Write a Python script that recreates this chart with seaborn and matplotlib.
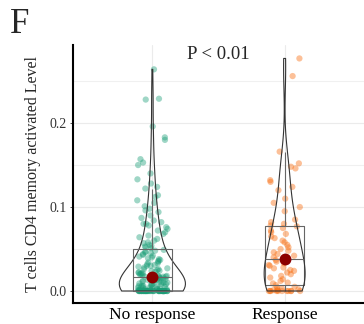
import numpy as np
import pandas as pd
import matplotlib
matplotlib.use("Agg")
import matplotlib.pyplot as plt
import seaborn as sns

# groups shown on the x axis
groups = ["No response", "Response"]

# T cells CD4 memory activated level
no_response = [
    0.264, 0.229, 0.228, 0.196, 0.183, 0.180, 0.157, 0.153, 0.150, 0.140,
    0.133, 0.128, 0.124, 0.122, 0.114, 0.112, 0.108, 0.105, 0.101, 0.098,
    0.096, 0.094, 0.090, 0.087, 0.084, 0.082, 0.080, 0.080, 0.078, 0.076,
    0.074, 0.072, 0.070, 0.068, 0.066, 0.064, 0.062, 0.060, 0.058, 0.057,
    0.055, 0.054, 0.053, 0.052, 0.051,
    0.049, 0.048, 0.047, 0.046, 0.045, 0.044, 0.043, 0.042, 0.041, 0.040,
    0.039, 0.038, 0.037, 0.036, 0.035, 0.034, 0.033, 0.032, 0.031, 0.030,
    0.030, 0.029, 0.028, 0.027, 0.026, 0.026, 0.025, 0.024, 0.024, 0.023,
    0.022, 0.022, 0.021, 0.021, 0.020, 0.020, 0.019, 0.019, 0.018, 0.018,
    0.018, 0.017, 0.017, 0.017, 0.017,
    0.016, 0.016, 0.015, 0.015, 0.014, 0.014, 0.013, 0.013, 0.012, 0.012,
    0.011, 0.011, 0.010, 0.010, 0.010, 0.009, 0.009, 0.008, 0.008, 0.008,
    0.007, 0.007, 0.006, 0.006, 0.006, 0.005, 0.005, 0.005, 0.004, 0.004,
    0.004, 0.003, 0.003, 0.003, 0.002, 0.002, 0.002, 0.001, 0.001, 0.001,
    0.0, 0.0, 0.0, 0.0, 0.0, 0.0, 0.0, 0.0, 0.0, 0.0,
    0.0, 0.0, 0.0, 0.0, 0.0, 0.0, 0.0, 0.0, 0.0, 0.0,
    0.0, 0.0, 0.0, 0.0, 0.0, 0.0, 0.0, 0.0, 0.0, 0.0,
    0.0, 0.0, 0.0, 0.0, 0.0, 0.0, 0.0, 0.0, 0.0, 0.0,
    0.0, 0.0, 0.0, 0.0, 0.0, 0.0, 0.0, 0.0, 0.0, 0.0,
]
response = [
    0.277, 0.256, 0.166, 0.152, 0.148, 0.146, 0.132, 0.130, 0.124, 0.120,
    0.110, 0.105, 0.100, 0.095, 0.085, 0.082, 0.080,
    0.078, 0.077, 0.075, 0.072, 0.070, 0.068, 0.065, 0.063, 0.060, 0.058,
    0.055, 0.052, 0.050, 0.048, 0.046, 0.044, 0.042, 0.040,
    0.037, 0.035, 0.033, 0.031, 0.030, 0.028, 0.027, 0.025, 0.024, 0.022,
    0.020, 0.018, 0.016, 0.014, 0.012, 0.010, 0.009, 0.007,
    0.005, 0.004, 0.003, 0.002, 0.001, 0.001, 0.0, 0.0, 0.0, 0.0,
    0.0, 0.0, 0.0, 0.0, 0.0, 0.0, 0.0,
]
point_colors = ["#1B9E77", "#F86A0A"]
y_ticks = [0.0, 0.1, 0.2]
y_tick_labels = ["0.0", "0.1", "0.2"]
y_minor = [0.05, 0.15, 0.25]

df = pd.DataFrame({
    "group": [groups[0]] * len(no_response) + [groups[1]] * len(response),
    "level": no_response + response,
})

sns.set_theme(style="white")
plt.rcParams["font.family"] = ["Liberation Serif", "DejaVu Serif"]

fig = plt.figure(figsize=(3.64, 3.24), dpi=100)
ax = fig.add_axes([73 / 364, 21 / 324, 291 / 364, 258 / 324])

np.random.seed(3)
sns.stripplot(data=df, x="group", y="level", hue="group", order=groups,
              palette=point_colors, jitter=0.12, size=4.5, alpha=0.42,
              linewidth=0, legend=False, ax=ax, zorder=1)
sns.violinplot(data=df, x="group", y="level", order=groups, fill=False,
               cut=0, inner=None, width=0.5, color="#333333", linewidth=0.8,
               bw_method="silverman", ax=ax)
sns.boxplot(data=df, x="group", y="level", order=groups, fill=False,
            width=0.3, showfliers=False, showcaps=False, color="#666666",
            linewidth=0.8, ax=ax)
sns.pointplot(data=df, x="group", y="level", order=groups, estimator="median",
              errorbar=None, linestyle="none", color="#8B0000", markersize=6.5,
              ax=ax)
for c in ax.collections[-1:]:
    c.set_zorder(5)
for ln in ax.lines[-2:]:
    ln.set_zorder(5)

ax.set_xlim(-0.6, 1.6)
ax.set_ylim(-0.0143, 0.293)
ax.set_yticks(y_ticks)
ax.set_yticklabels(y_tick_labels)
ax.set_yticks(y_minor, minor=True)
ax.set_axisbelow(True)
ax.grid(True, which="major", color="#EBEBEB", linewidth=0.8)
ax.grid(True, which="minor", axis="y", color="#F0F0F0", linewidth=0.8)
ax.tick_params(axis="y", which="major", length=2.5, width=0.6, color="#333333",
               pad=2, labelsize=10, labelcolor="#333333", left=True)
ax.tick_params(axis="y", which="minor", length=0)
ax.tick_params(axis="x", length=0, pad=3, labelsize=12.5, labelcolor="black")
for side in ["top", "right"]:
    ax.spines[side].set_visible(False)
for side in ["left", "bottom"]:
    ax.spines[side].set_color("black")
    ax.spines[side].set_linewidth(1.5)

ax.set_xlabel("")
ax.set_ylabel("T cells CD4 memory activated Level", fontsize=11.5, labelpad=6)
ax.text(0.5, 0.282, "P < 0.01", ha="center", va="center", fontsize=13.5)
fig.text(10 / 364, 1 - 33 / 324, "F", fontsize=25, va="baseline")

fig.savefig("out.png", dpi=100)
